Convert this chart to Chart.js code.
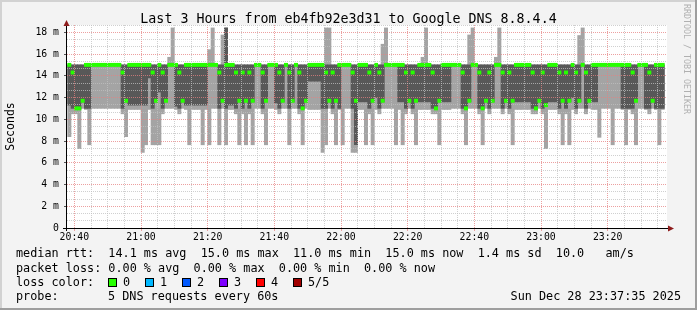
<!DOCTYPE html>
<html>
<head>
<meta charset="utf-8">
<title>SmokePing - eb4fb92e3d31 to Google DNS 8.8.4.4</title>
<script src="https://cdn.jsdelivr.net/npm/chart.js@4/dist/chart.umd.min.js"></script>
<style>
    html, body { margin: 0; padding: 0; background: #f3f3f3; }
    #wrap { width: 697px; height: 310px; }
</style>
</head>
<body>
<div id="wrap"><canvas id="smokeChart" width="697" height="310"></canvas></div>
<script>
(function() {
    "use strict";

    // ==================== DATA ====================
    const graphStart = '20:37:48';      // left edge of the plot
    const graphMinutes = 180;           // "Last 3 Hours"
    const firstStep = '20:38';          // first full 60s rrd step
    const xTickLabels = ['20:40', '21:00', '21:20', '21:40', '22:00', '22:20', '22:40', '23:00', '23:20'];
    const yTickLabels = ['0', '2 m', '4 m', '6 m', '8 m', '10 m', '12 m', '14 m', '16 m', '18 m'];

    // median rtt per step (ms)
    const medianRtt = [
        15, 14.3, 11.0, 11.0, 11.7, 15, 15, 15, 15, 15,
        15, 15, 15, 15, 15, 15, 14.3, 11.7, 15, 15,
        15, 15, 15, 15, 15, 14.3, 11.7, 15, 14.3, 11.7,
        15, 15, 15, 14.3, 11.7, 15, 15, 15, 15, 15,
        15, 15, 15, 15, 15, 14.3, 11.7, 15, 15, 15,
        14.3, 11.7, 14.3, 11.7, 14.3, 11.7, 15, 15, 14.3, 11.7,
        15, 15, 15, 14.3, 11.7, 15, 14.3, 11.7, 15, 14.3,
        11.0, 11.7, 15, 15, 15, 15, 15, 14.3, 11.7, 14.3,
        11.7, 15, 15, 15, 15, 14.3, 11.7, 15, 15, 15,
        14.3, 11.7, 15, 14.3, 11.7, 15, 15, 15, 15, 15,
        15, 14.3, 11.7, 14.3, 11.7, 15, 15, 15, 15, 14.3,
        11.0, 11.7, 15, 15, 15, 15, 15, 15, 14.3, 11.0,
        11.7, 15, 15, 14.3, 11.0, 11.7, 14.3, 11.7, 15, 15,
        14.3, 11.7, 14.3, 11.7, 15, 15, 15, 15, 15, 14.3,
        11.0, 11.7, 14.3, 11.3, 15, 15, 15, 14.3, 11.7, 14.3,
        11.7, 15, 14.3, 11.7, 15, 14.3, 11.7, 15, 15, 15,
        15, 15, 15, 15, 15, 15, 15, 15, 15, 14.3,
        11.7, 15, 15, 15, 14.3, 11.7, 15, 15, 15
    ];

    // smoke: 1st (min) ping of 5
    const pingMin = [
        8.4, 10.5, 10.5, 7.3, 11.0, 10.9, 7.65, 11.0, 11.0, 11.0,
        11.0, 11.0, 11.0, 11.0, 11.0, 11.0, 10.5, 8.4, 10.9, 10.9,
        10.9, 10.9, 6.95, 7.65, 10.9, 7.65, 7.65, 7.65, 10.5, 11.0,
        11.0, 11.0, 10.9, 10.5, 11.0, 10.9, 7.65, 10.9, 10.9, 10.9,
        7.65, 10.9, 7.65, 11.0, 11.0, 7.65, 11.0, 7.65, 10.9, 10.9,
        10.5, 7.65, 10.5, 7.65, 10.5, 7.65, 11.0, 11.0, 10.5, 7.65,
        11.0, 11.0, 10.9, 10.5, 11.0, 11.0, 7.65, 11.0, 11.0, 10.5,
        7.65, 11.0, 10.9, 10.9, 10.9, 10.9, 6.95, 7.65, 11.0, 10.5,
        7.65, 10.9, 7.65, 11.0, 11.0, 6.95, 6.95, 10.9, 10.9, 7.65,
        10.5, 7.65, 10.9, 10.5, 11.0, 11.0, 11.0, 11.0, 7.65, 10.9,
        7.65, 10.5, 11.0, 10.5, 7.65, 10.9, 10.9, 10.9, 10.9, 10.5,
        10.5, 7.65, 10.9, 10.9, 10.9, 11.0, 11.0, 11.0, 10.5, 7.65,
        11.0, 11.0, 11.0, 10.5, 7.65, 11.0, 10.5, 11.0, 11.0, 11.0,
        10.5, 11.0, 10.5, 7.65, 10.9, 10.9, 10.9, 10.9, 10.9, 10.5,
        10.5, 11.0, 10.5, 7.3, 10.9, 10.9, 10.9, 10.5, 7.65, 10.5,
        7.65, 10.9, 10.5, 11.0, 11.0, 10.5, 11.0, 10.9, 10.9, 8.34,
        11.0, 11.0, 11.0, 7.65, 11.0, 11.0, 10.9, 7.65, 10.9, 10.5,
        7.65, 11.0, 11.0, 10.9, 10.5, 11.0, 10.9, 7.65, 10.9
    ];

    // smoke: 2nd ping of 5
    const pingLow = [
        11.3, 11.0, 10.95, 10.95, 11.6, 11.0, 11.0, 15, 15, 15,
        15, 15, 15, 15, 15, 15, 11.0, 11.6, 11.3, 11.3,
        11.3, 11.3, 11.3, 11.3, 13.8, 11.0, 11.6, 12.5, 11.0, 11.6,
        15, 15, 11.2, 11.0, 11.6, 11.3, 11.3, 11.3, 11.3, 11.3,
        11.3, 11.3, 15, 15, 15, 11.0, 11.6, 11.0, 11.3, 11.3,
        11.0, 11.6, 11.0, 11.6, 11.0, 11.6, 15, 15, 11.0, 11.6,
        15, 15, 11.5, 11.0, 11.6, 15, 11.0, 11.6, 15, 11.0,
        10.95, 11.6, 13.5, 13.5, 13.5, 13.5, 11.0, 11.0, 11.6, 11.0,
        11.6, 11.0, 15, 15, 15, 11.0, 7.66, 11.6, 11.6, 11.6,
        11.0, 11.6, 12.0, 11.0, 11.6, 15, 15, 15, 15, 11.6,
        11.6, 11.0, 11.6, 11.0, 11.6, 11.6, 11.6, 11.6, 11.6, 11.0,
        10.95, 11.6, 11.6, 11.6, 11.6, 15, 15, 15, 11.0, 10.95,
        11.6, 15, 15, 11.0, 10.95, 11.6, 11.0, 11.6, 15, 15,
        11.0, 11.6, 11.0, 11.6, 11.6, 11.6, 11.6, 11.6, 11.6, 11.0,
        10.95, 11.6, 11.0, 11.2, 11.6, 11.6, 11.6, 11.0, 11.6, 11.0,
        11.6, 12.0, 11.0, 11.6, 15, 11.0, 11.6, 11.6, 11.6, 15,
        15, 15, 15, 15, 15, 15, 11.0, 11.0, 11.0, 11.0,
        11.6, 15, 15, 11.0, 11.0, 11.6, 11.0, 11.0, 11.0
    ];

    // smoke: 4th ping of 5
    const pingHigh = [
        15, 15, 15, 15, 15, 15, 15, 15, 15, 15,
        15, 15, 15, 15, 15, 15, 15, 15, 15, 15,
        15, 15, 15, 15, 15, 15, 15, 15, 15, 15,
        15, 15, 15, 15, 15, 15, 15, 15, 15, 15,
        15, 15, 15, 15, 15, 15, 15, 18.4, 15, 15,
        15, 15, 15, 15, 15, 15, 15, 15, 15, 15,
        15, 15, 15, 15, 15, 15, 15, 15, 15, 15,
        15, 15, 15, 15, 15, 15, 15, 15, 15, 15,
        15, 15, 15, 15, 15, 15, 15, 15, 15, 15,
        15, 15, 15, 15, 15, 15, 15, 15, 15, 15,
        15, 15, 15, 15, 15, 15, 15, 15, 15, 15,
        15, 15, 15, 15, 15, 15, 15, 15, 15, 15,
        15, 15, 15, 15, 15, 15, 15, 15, 15, 15,
        15, 15, 15, 15, 15, 15, 15, 15, 15, 15,
        15, 15, 15, 15, 15, 15, 15, 15, 15, 15,
        15, 15, 15, 15, 15, 15, 15, 15, 15, 15,
        15, 15, 15, 15, 15, 15, 15, 15, 15, 15,
        15, 15, 15, 15, 15, 15, 15, 15, 15
    ];

    // smoke: 5th (max) ping of 5
    const pingMax = [
        15, 15, 15, 15, 15, 15, 15, 15, 15, 15,
        15, 15, 15, 15, 15, 15, 15, 15, 15, 15,
        15, 15, 15, 15, 15, 15, 15, 15, 15, 15,
        15.7, 18.4, 15, 15, 15, 15, 15, 15, 15, 15,
        15, 15, 16.4, 18.4, 15, 15, 17.75, 18.4, 15, 15,
        15, 15, 15, 15, 15, 15, 15, 15, 15, 15,
        15, 15, 15, 15, 15, 15, 15, 15, 15, 15,
        15, 15, 15, 15, 15, 15, 15, 18.4, 18.4, 15,
        15, 15, 15, 15, 15, 15, 15, 15, 15, 15,
        15, 15, 15, 15, 16.9, 18.4, 15, 15, 15, 15,
        15, 15, 15, 15, 15, 15, 15.7, 18.4, 15, 15,
        15, 15, 15, 15, 15, 15, 15, 15, 15, 15,
        17.75, 18.4, 15, 15, 15, 15, 15, 15, 15.7, 18.4,
        15, 15, 15, 15, 15, 15, 15, 15, 15, 15,
        15, 15, 15, 15, 15, 15, 15, 15, 15, 15,
        15, 15, 15, 17.7, 18.4, 15, 15, 15, 15, 15,
        15, 15, 15, 15, 15, 15, 15, 15, 15, 15,
        15, 15, 15, 15, 15, 15, 15, 15, 15
    ];

    const rttStats = ['14.1 ms avg', '15.0 ms max', '11.0 ms min', '15.0 ms now', '1.4 ms sd', '10.0   am/s'];
    const lossStats = ['0.00 % avg', '0.00 % max', '0.00 % min', '0.00 % now'];
    const lossLabels = ['0', '1', '2', '3', '4', '5/5'];
    const lossColors = ['#26ff00', '#00b8ff', '#0059ff', '#7e00ff', '#ff0000', '#a10000'];
    const probeText = '5 DNS requests every 60s';
    const stampText = 'Sun Dec 28 23:37:35 2025';
    const titleText = 'Last 3 Hours from eb4fb92e3d31 to Google DNS 8.8.4.4';

    // ==================== HELPERS ====================
    const MONO = "'DejaVu Sans Mono', 'Liberation Mono', monospace";
    const GRID = 'rgba(192,192,192,0.75)';
    const MGRID = 'rgba(230,128,128,0.75)';

    function toMinutes(s) {
        const p = s.split(':').map(Number);
        return p[0] * 60 + p[1] + (p[2] || 0) / 60;
    }

    const xMin = toMinutes(graphStart);
    const xMax = xMin + graphMinutes;
    const step0 = toMinutes(firstStep);
    const xMajor = xTickLabels.map(toMinutes);

    // minor x grid every 5 minutes, major every 20 (the labelled ones)
    const xTicks = [];
    for (let v = Math.ceil(xMin / 5) * 5; v <= xMax; v += 5) xTicks.push(v);
    // y grid every 2/3 ms, labels every 2 ms
    const yTicks = [];
    for (let k = 0; k * 2 <= 3 * 18.7; k++) yTicks.push(k * 2 / 3);
    const yMax = yTicks[yTicks.length - 1];

    const isMajorX = v => xMajor.indexOf(v) !== -1;
    const isMajorY = v => Math.round(v * 3) % 6 === 0;

    function band(lo, hi) {
        return medianRtt.map((_, i) => ({ x: step0 + i + 0.5, y: [lo[i], hi[i]] }));
    }

    const barBase = { grouped: false, barPercentage: 1, categoryPercentage: 1, borderWidth: 0 };

    // ==================== DECORATION PLUGIN ====================
    const rrdFrame = {
        id: 'rrdFrame',
        beforeDraw(chart) {
            const { ctx, chartArea: a, width, height } = chart;
            ctx.save();
            ctx.fillStyle = '#f3f3f3';
            ctx.fillRect(0, 0, width, height);
            ctx.fillStyle = '#ffffff';
            ctx.fillRect(a.left, a.top, a.right - a.left, a.bottom - a.top);
            ctx.fillStyle = '#d2d2d2';
            ctx.fillRect(0, 0, width, 2);
            ctx.fillRect(0, 0, 2, height);
            ctx.fillStyle = '#9e9e9e';
            ctx.fillRect(0, height - 2, width, 2);
            ctx.fillRect(width - 2, 0, 2, height);
            ctx.restore();
        },
        afterDraw(chart) {
            const { ctx, chartArea: a } = chart;
            ctx.save();

            // axes with arrows
            const ax = a.left - 0.5, ay = a.bottom + 0.5;
            ctx.strokeStyle = '#000000';
            ctx.lineWidth = 1;
            ctx.beginPath();
            ctx.moveTo(ax, a.bottom + 3); ctx.lineTo(ax, a.top - 1);
            ctx.moveTo(a.left - 4, ay); ctx.lineTo(a.right + 2, ay);
            ctx.stroke();
            ctx.fillStyle = '#8e1c1c';
            ctx.beginPath();
            ctx.moveTo(ax - 3, a.top + 1); ctx.lineTo(ax + 3, a.top + 1); ctx.lineTo(ax, a.top - 5);
            ctx.closePath(); ctx.fill();
            ctx.beginPath();
            ctx.moveTo(a.right + 1, ay - 3); ctx.lineTo(a.right + 1, ay + 3); ctx.lineTo(a.right + 7, ay);
            ctx.closePath(); ctx.fill();

            // title
            ctx.fillStyle = '#000000';
            ctx.font = '13.3px ' + MONO;
            ctx.textAlign = 'center';
            ctx.textBaseline = 'alphabetic';
            ctx.fillText(titleText, chart.width / 2, 23);

            // y axis title
            ctx.save();
            ctx.translate(14, (a.top + a.bottom) / 2);
            ctx.rotate(-Math.PI / 2);
            ctx.font = '11.5px ' + MONO;
            ctx.textBaseline = 'alphabetic';
            ctx.fillText('Seconds', 0, 0);
            ctx.restore();

            // watermark
            ctx.save();
            ctx.translate(683.5, 4);
            ctx.rotate(Math.PI / 2);
            ctx.font = '8.3px ' + MONO;
            ctx.fillStyle = '#b0b0b0';
            ctx.textAlign = 'left';
            ctx.textBaseline = 'alphabetic';
            ctx.fillText('RRDTOOL / TOBI OETIKER', 0, 0);
            ctx.restore();

            // legend block
            ctx.font = '11.8px ' + MONO;
            ctx.fillStyle = '#000000';
            ctx.textAlign = 'left';
            ctx.textBaseline = 'middle';
            ctx.fillText('median rtt:  ' + rttStats.join('  '), 16, 254);
            ctx.fillText('packet loss: ' + lossStats.join('  '), 16, 268.5);
            ctx.fillText('loss color:', 16, 282.5);
            lossLabels.forEach((lbl, i) => {
                const bx = 108 + i * 37;
                ctx.fillStyle = lossColors[i];
                ctx.fillRect(bx, 278.5, 8, 8);
                ctx.strokeStyle = '#000000';
                ctx.strokeRect(bx + 0.5, 278.5, 8, 8);
                ctx.fillStyle = '#000000';
                ctx.fillText(lbl, bx + 15, 282.5);
            });
            ctx.fillText('probe:', 16, 296.5);
            ctx.fillText(probeText, 108, 296.5);
            ctx.textAlign = 'right';
            ctx.fillText(stampText, 681, 296.5);

            ctx.restore();
        }
    };

    // ==================== CHART ====================
    const ctx = document.getElementById('smokeChart').getContext('2d');

    new Chart(ctx, {
        type: 'bar',
        data: {
            datasets: [
                Object.assign({ label: 'smoke 1/5', data: band(pingMin, pingMax), backgroundColor: '#a4a4a4', order: 3 }, barBase),
                Object.assign({ label: 'smoke 2/4', data: band(pingLow, pingHigh), backgroundColor: '#585858', order: 2 }, barBase),
                Object.assign({
                    label: 'median rtt',
                    data: medianRtt.map((m, i) => ({ x: step0 + i + 0.5, y: [m - 0.15, m + 0.15] })),
                    backgroundColor: lossColors[0],
                    order: 1
                }, barBase)
            ]
        },
        options: {
            responsive: false,
            devicePixelRatio: 1,
            animation: false,
            layout: { padding: { left: 0, top: 25, right: 30, bottom: 0 } },
            plugins: { legend: { display: false }, tooltip: { enabled: false }, title: { display: false } },
            scales: {
                x: {
                    type: 'linear',
                    min: xMin,
                    max: xMax,
                    offset: false,
                    afterBuildTicks: s => { s.ticks = xTicks.map(v => ({ value: v })); },
                    afterFit: s => { s.height = 82; },
                    grid: {
                        z: 1,
                        offset: false,
                        lineWidth: 1,
                        color: c => (c.tick && isMajorX(c.tick.value)) ? MGRID : GRID,
                        drawTicks: true,
                        tickLength: 3,
                        tickColor: c => (c.tick && isMajorX(c.tick.value)) ? MGRID : 'rgba(0,0,0,0)'
                    },
                    border: { display: false, dash: [1, 1] },
                    ticks: {
                        autoSkip: false,
                        maxRotation: 0,
                        padding: 1,
                        color: '#000000',
                        font: { family: MONO, size: 9.8 },
                        callback: v => {
                            const i = xMajor.indexOf(v);
                            return i === -1 ? '' : xTickLabels[i];
                        }
                    }
                },
                y: {
                    min: 0,
                    max: yMax,
                    afterBuildTicks: s => { s.ticks = yTicks.map(v => ({ value: v })); },
                    afterFit: s => { s.width = 67; },
                    grid: {
                        z: 1,
                        lineWidth: 1,
                        color: c => (c.tick && isMajorY(c.tick.value)) ? MGRID : GRID,
                        drawTicks: true,
                        tickLength: 3,
                        tickColor: c => (c.tick && isMajorY(c.tick.value)) ? '#555555' : 'rgba(0,0,0,0)'
                    },
                    border: { display: false, dash: [1, 1] },
                    ticks: {
                        autoSkip: false,
                        padding: 5,
                        color: '#000000',
                        font: { family: MONO, size: 9.8 },
                        callback: v => isMajorY(v) ? yTickLabels[Math.round(v * 3) / 6] : ''
                    }
                }
            }
        },
        plugins: [rrdFrame]
    });
})();
</script>
</body>
</html>
